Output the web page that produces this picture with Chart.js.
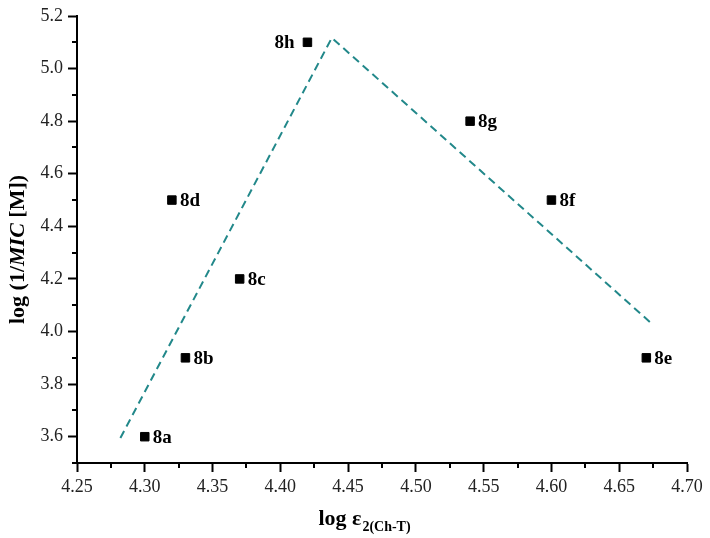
<!DOCTYPE html>
<html>
<head>
<meta charset="utf-8">
<script src="https://cdn.jsdelivr.net/npm/chart.js@4.4.1/dist/chart.umd.min.js"></script>
<style>
html,body{margin:0;padding:0;background:#fff;}
#wrap{width:710px;height:538px;position:relative;}
</style>
</head>
<body>
<div id="wrap"><canvas id="c" width="710" height="538"></canvas></div>
<script>
// ---- data ----
const compoundLabels = ['8a','8b','8c','8d','8e','8f','8g','8h'];
const logEps = [4.30, 4.33, 4.37, 4.32, 4.67, 4.60, 4.54, 4.42];
const logInvMIC = [3.6, 3.9, 4.2, 4.5, 3.9, 4.5, 4.8, 5.1];
// dashed guide line vertices
const lineX = [4.282, 4.438, 4.674];
const lineY = [3.595, 5.117, 4.03];
// tick values
const xTickValues = [4.25, 4.30, 4.35, 4.40, 4.45, 4.50, 4.55, 4.60, 4.65, 4.70];
const yTickValues = [3.6, 3.8, 4.0, 4.2, 4.4, 4.6, 4.8, 5.0, 5.2];
const xMinorValues = [4.275, 4.325, 4.375, 4.425, 4.475, 4.525, 4.575, 4.625, 4.675];
const yMinorValues = [3.5, 3.7, 3.9, 4.1, 4.3, 4.5, 4.7, 4.9, 5.1];
const labelLeft = ['8h'];

const SERIF = '"Liberation Serif", "Times New Roman", serif';

const overlay = {
  id: 'overlay',
  afterDraw(chart) {
    const ctx = chart.ctx;
    const xs = chart.scales.x, ys = chart.scales.y;
    const area = chart.chartArea;
    ctx.save();
    // minor ticks
    ctx.strokeStyle = '#000';
    ctx.lineWidth = 2;
    ctx.beginPath();
    xMinorValues.forEach(v => {
      const px = Math.round(xs.getPixelForValue(v));
      ctx.moveTo(px, area.bottom);
      ctx.lineTo(px, area.bottom + 5);
    });
    yMinorValues.forEach(v => {
      const py = Math.round(ys.getPixelForValue(v));
      ctx.moveTo(area.left, py);
      ctx.lineTo(area.left - 5, py);
    });
    ctx.stroke();

    // point labels
    ctx.fillStyle = '#000';
    ctx.font = 'bold 19px ' + SERIF;
    ctx.textBaseline = 'alphabetic';
    compoundLabels.forEach((lab, i) => {
      const px = xs.getPixelForValue(logEps[i]);
      const py = ys.getPixelForValue(logInvMIC[i]);
      if (labelLeft.includes(lab)) {
        ctx.textAlign = 'right';
        ctx.fillText(lab, px - 13, py + 6);
      } else {
        ctx.textAlign = 'left';
        ctx.fillText(lab, px + 8, py + 6);
      }
    });

    // x title: log ε2(Ch-T)
    ctx.textAlign = 'left';
    const mainFont = 'bold 22px ' + SERIF;
    const subFont = 'bold 14px ' + SERIF;
    const t1 = 'log \u03B5';
    const t2 = '2(Ch-T)';
    ctx.font = mainFont;
    const w1 = ctx.measureText(t1).width;
    ctx.font = subFont;
    const w2 = ctx.measureText(t2).width;
    const cx = 364;
    let sx = cx - (w1 + w2) / 2;
    ctx.font = mainFont;
    ctx.fillText(t1, sx, 525);
    ctx.font = subFont;
    ctx.fillText(t2, sx + w1 + 1, 531);

    // y title: log (1/MIC [M]) with MIC italic
    const parts = [
      {t: 'log (1/', f: 'bold 22px ' + SERIF},
      {t: 'MIC', f: 'italic bold 22px ' + SERIF},
      {t: ' [M])', f: 'bold 22px ' + SERIF}
    ];
    let total = 0;
    parts.forEach(p => { ctx.font = p.f; p.w = ctx.measureText(p.t).width; total += p.w; });
    ctx.translate(24, (area.top + area.bottom) / 2 + 10);
    ctx.rotate(-Math.PI / 2);
    let ox = -total / 2;
    parts.forEach(p => { ctx.font = p.f; ctx.fillText(p.t, ox, 0); ox += p.w; });
    ctx.restore();
  }
};

const tickFont = {family: SERIF, size: 18};

new Chart(document.getElementById('c'), {
  type: 'scatter',
  data: {
    datasets: [
      {
        label: 'fit',
        data: lineX.map((x, i) => ({x: x, y: lineY[i]})),
        showLine: true,
        borderColor: '#22888a',
        borderWidth: 2,
        borderDash: [8, 5],
        pointRadius: 0,
        fill: false,
        order: 2
      },
      {
        label: 'compounds',
        data: logEps.map((x, i) => ({x: x, y: logInvMIC[i]})),
        pointStyle: 'rect',
        pointRadius: 6,
        pointHoverRadius: 6,
        backgroundColor: '#000',
        borderColor: '#000',
        borderWidth: 1,
        showLine: false,
        order: 1
      }
    ]
  },
  plugins: [overlay],
  options: {
    responsive: false,
    devicePixelRatio: 1,
    animation: false,
    events: [],
    layout: {padding: {top: 16, right: 23, left: 0, bottom: 0}},
    plugins: {legend: {display: false}, tooltip: {enabled: false}, title: {display: false}},
    scales: {
      x: {
        type: 'linear',
        min: 4.25, max: 4.70,
        afterBuildTicks: s => { s.ticks = xTickValues.map(v => ({value: v})); },
        afterFit: s => { s.height = 75; },
        ticks: {
          font: tickFont, color: '#222', padding: 4,
          callback: v => v.toFixed(2), maxRotation: 0, autoSkip: false
        },
        grid: {drawOnChartArea: false, drawTicks: true, tickLength: 9, tickWidth: 2, tickColor: '#000'},
        border: {display: true, color: '#000', width: 2}
      },
      y: {
        type: 'linear',
        min: 3.5, max: 5.2,
        afterBuildTicks: s => { s.ticks = yTickValues.map(v => ({value: v})); },
        afterFit: s => { s.width = 77; },
        ticks: {
          font: tickFont, color: '#222', padding: 5,
          callback: v => v.toFixed(1), autoSkip: false
        },
        grid: {drawOnChartArea: false, drawTicks: true, tickLength: 9, tickWidth: 2, tickColor: '#000'},
        border: {display: true, color: '#000', width: 2}
      }
    }
  }
});
</script>
</body>
</html>
